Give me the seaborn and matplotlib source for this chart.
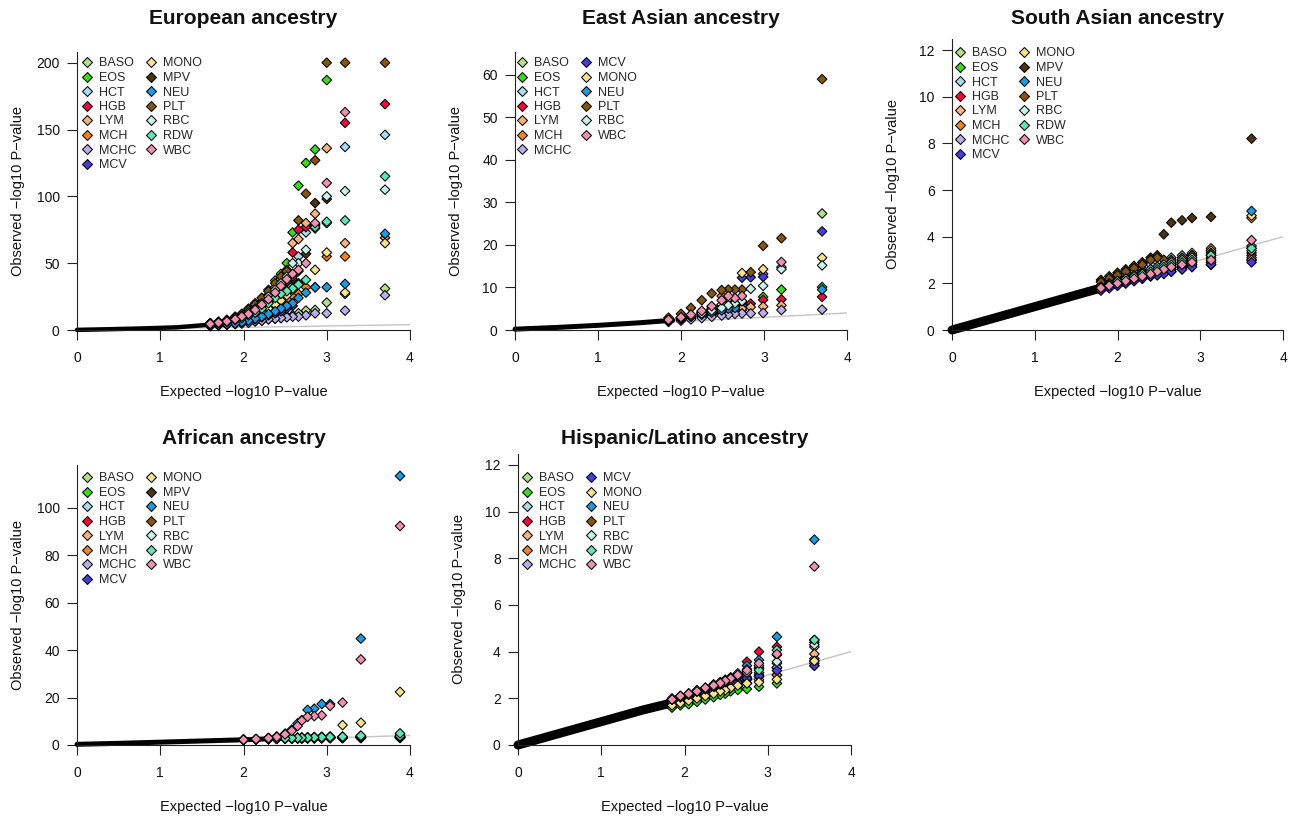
import matplotlib
matplotlib.use("Agg")
import matplotlib.pyplot as plt
import pandas as pd
import seaborn as sns
from matplotlib.lines import Line2D

sns.set_theme(style="ticks")
plt.rcParams['font.family'] = ['Liberation Sans', 'DejaVu Sans']

# ---------------- data ----------------
TRAITS = ["BASO", "EOS", "HCT", "HGB", "LYM", "MCH", "MCHC", "MCV",
          "MONO", "MPV", "NEU", "PLT", "RBC", "RDW", "WBC"]
COLORS = ["#b5e08a", "#3adb1a", "#a8dcf0", "#e8103a", "#f5b47c", "#f58518",
          "#bcaee8", "#4a3bd6", "#f7e48a", "#4b3510", "#1d9be0", "#86560e",
          "#c8f2ea", "#5ee6b4", "#f290b0"]

REF_X = [0, 4]
REF_Y = [0, 4]
X_TICKS = [0, 1, 2, 3, 4]

# European ancestry
EUR_TRAITS = TRAITS
EUR_X = [3.70, 3.22, 3.00, 2.86, 2.75, 2.66, 2.59, 2.52, 2.45, 2.38,
         2.30, 2.22, 2.14, 2.06, 1.98, 1.90, 1.80, 1.70, 1.60]
EUR_Y = [
    [31, 27, 20.5, 15, 14.5, 12.5, 11, 10, 9, 8.5, 8, 7, 6.5, 5.5, 5, 4.5, 4, 3.5, 3],          # BASO
    [None, None, 187, 135, 125, 108, 73, 50, 42, 37, 30, 24, 20, 16, 12, 10, 7.5, 6, 5],       # EOS
    [146, 137, 80, 76, 73, 55, 31, 34, 30, 26, 22, 18, 14, 11.5, 9.5, 8, 6.5, 5.5, 4.5],      # HCT
    [169, 155, None, 79, 77, 75, 58, 44, 36, 31, 26, 21, 17, 13, 11, 9, 7, 6, 5],              # HGB
    [None, 65, 136, 87, 80, 68, 65, 45, 38, 32, 26, 21, 17, 13.5, 11, 9, 7, 6, 5],             # LYM
    [69, 55, 55, 32, 32, 27, 25, 23, 21, 18, 15, 12, 10, 8.5, 7, 6, 5, 4.2, 3.5],              # MCH
    [26, 14.5, 12.5, 12.5, 11, 10, 10, 9.5, 9, 8.5, 8, 7, 6.5, 5.5, 5, 4.5, 4, 3.5, 3],        # MCHC
    [None, None, None, None, None, None, 18, 16, 14, 12.5, 11, 9.5, 8, 7, 6, 5, 4.3, 3.7, 3.2],  # MCV
    [65, 28, 58, 45, None, 35, 30, 26, 22, 19, 16, 13, 11, 9, 7.5, 6.5, 5.5, 4.5, 4],         # MONO
    [None, None, 98, 95, 57, 44, 38, 36, 33, 30, 26, 21, 17, 14, 11, 9, 7, 5.5, 4.5],          # MPV
    [72, 34.5, 32, 32, 28, 24, 20, 18, 16, 14, 12, 10, 8.5, 7, 6, 5, 4.3, 3.7, 3.2],           # NEU
    [200, 200, 200, 127, 102, 82, 40, 44, 40, 35, 29, 24, 19, 15, 12, 9.5, 7.5, 6, 5],         # PLT
    [105, 104, 100, 78, 60, 50, 50, 40, 35, 30, 25, 20, 16, 13, 10.5, 8.5, 7, 5.5, 4.5],       # RBC
    [115, 82, 81, 77, 37.5, 34, 31, 29, 27, 24, 20, 16, 13, 11, 9, 7.5, 6, 5, 4.5],            # RDW
    [None, 163, 110, 80, 50, 45, 42, 38, 33, 28, 23, 19, 15, 12, 10, 8, 6.5, 5.5, 4.5],        # WBC
]
EUR_BULK_X = [0, 0.4, 0.8, 1.2, 1.6]
EUR_BULK_Y = [0.1, 0.6, 1.2, 2.0, 4.0]
EUR_YTICKS = [0, 50, 100, 150, 200]

# East Asian ancestry
EAS_TRAITS = ["BASO", "EOS", "HCT", "HGB", "LYM", "MCH", "MCHC",
              "MCV", "MONO", "NEU", "PLT", "RBC", "WBC"]
EAS_X = [3.70, 3.21, 2.99, 2.84, 2.735, 2.65, 2.57, 2.49, 2.37, 2.25, 2.12, 2.00, 1.85]
EAS_Y = [
    [27.4, None, None, None, None, 6.0, 5.5, 5.0, 4.5, 3.9, 3.3, 2.8, 2.3],    # BASO
    [10.1, 9.5, 7.8, None, 5.8, 5.5, 5.0, 4.6, 4.1, 3.6, 3.1, 2.6, 2.2],       # EOS
    [None, 14.8, None, None, 6.5, 7.3, 6.2, 5.5, 4.8, 4.0, 3.3, 2.8, 2.3],     # HCT
    [7.8, 7.2, 7.1, 6.2, 4.7, 4.6, 4.3, 4.0, 3.6, 3.2, 2.8, 2.4, 2.1],         # HGB
    [None, 5.8, 5.5, 5.4, 5.0, 4.8, 4.5, 4.2, 3.8, 3.3, 2.9, 2.5, 2.1],        # LYM
    [None, None, 13.2, None, 6.8, 6.5, 7.5, 8.0, 5.5, 4.3, 3.5, 2.9, 2.4],     # MCH
    [4.8, 4.7, 4.0, 3.9, 3.9, 3.8, 3.6, 3.4, 3.1, 2.8, 2.5, 2.2, 1.9],         # MCHC
    [23.2, None, 12.5, 12.4, 12.3, 6.0, 6.2, 5.8, 5.0, 4.2, 3.5, 2.9, 2.4],    # MCV
    [17.0, None, 14.3, None, 13.4, 7.4, 7.4, 6.0, 4.9, 4.1, 3.4, 2.8, 2.3],    # MONO
    [9.5, None, None, None, None, 5.2, 5.0, 4.6, 4.1, 3.6, 3.1, 2.6, 2.2],     # NEU
    [59.0, 21.6, 19.8, 13.6, 9.5, 9.5, 9.5, 9.4, 8.6, 7.0, 5.2, 3.8, 2.9],     # PLT
    [15.2, 14.3, 10.4, 9.7, 6.8, 6.3, 5.8, 5.2, 4.6, 3.9, 3.3, 2.8, 2.3],      # RBC
    [None, 16.0, None, None, 8.0, 7.5, 8.0, 7.0, 5.6, 4.5, 3.6, 3.0, 2.4],     # WBC
]
EAS_BULK_X = [0, 0.5, 1.0, 1.5, 1.9]
EAS_BULK_Y = [0.2, 0.6, 1.1, 1.7, 2.3]
EAS_YTICKS = [0, 10, 20, 30, 40, 50, 60]

# South Asian ancestry
SAS_TRAITS = TRAITS
SAS_X = [3.62, 3.13, 2.90, 2.78, 2.65, 2.56, 2.48, 2.40, 2.30, 2.20, 2.10, 2.00, 1.90, 1.80]
SAS_Y = [
    [3.3, 3.1, 2.9, 2.8, 2.7, 2.6, 2.5, 2.4, 2.3, 2.2, 2.1, 2.0, 1.9, 1.8],          # BASO
    [3.0, 2.9, 2.8, 2.7, 2.6, 2.5, 2.45, 2.35, 2.25, 2.15, 2.05, 1.95, 1.85, 1.75],  # EOS
    [3.6, 3.4, 3.3, 3.2, 3.1, 3.0, 2.9, 2.8, 2.6, 2.5, 2.35, 2.2, 2.05, 1.9],        # HCT
    [3.2, 3.0, 2.9, 2.8, 2.7, 2.6, 2.5, 2.4, 2.3, 2.2, 2.1, 2.0, 1.9, 1.8],          # HGB
    [4.8, 3.5, 3.2, 3.0, 2.9, 2.8, 2.7, 2.6, 2.5, 2.35, 2.25, 2.1, 2.0, 1.85],       # LYM
    [3.1, 2.9, 2.8, 2.7, 2.6, 2.5, 2.4, 2.35, 2.25, 2.15, 2.05, 1.95, 1.85, 1.75],   # MCH
    [3.0, 2.8, 2.7, 2.6, 2.5, 2.45, 2.35, 2.3, 2.2, 2.1, 2.0, 1.9, 1.8, 1.7],        # MCHC
    [2.9, 2.8, 2.7, 2.6, 2.5, 2.4, 2.35, 2.3, 2.2, 2.1, 2.0, 1.9, 1.8, 1.7],         # MCV
    [4.9, 3.4, 3.1, 3.0, 2.85, 2.75, 2.65, 2.55, 2.45, 2.3, 2.2, 2.1, 1.95, 1.85],   # MONO
    [8.2, 4.85, 4.8, 4.7, 4.6, 4.1, 3.2, 3.1, 2.9, 2.75, 2.6, 2.45, 2.3, 2.15],      # MPV
    [5.1, 3.3, 3.0, 2.9, 2.8, 2.7, 2.6, 2.5, 2.4, 2.3, 2.2, 2.05, 1.95, 1.85],       # NEU
    [3.5, 3.3, 3.2, 3.1, 3.0, 3.0, 3.1, 3.0, 2.8, 2.65, 2.5, 2.35, 2.2, 2.05],       # PLT
    [3.4, 3.2, 3.1, 3.0, 2.9, 2.8, 2.7, 2.6, 2.45, 2.35, 2.2, 2.1, 2.0, 1.85],       # RBC
    [3.5, 3.2, 3.0, 2.9, 2.8, 2.7, 2.6, 2.5, 2.4, 2.3, 2.2, 2.1, 1.95, 1.85],        # RDW
    [3.85, 3.0, 2.9, 2.8, 2.7, 2.6, 2.5, 2.4, 2.3, 2.2, 2.1, 2.0, 1.9, 1.8],         # WBC
]
SAS_BULK_X = [0, 0.5, 1.0, 1.5, 2.0, 2.2]
SAS_BULK_Y = [0.0, 0.5, 1.0, 1.5, 2.0, 2.2]
SAS_YTICKS = [0, 2, 4, 6, 8, 10, 12]

# African ancestry
AFR_TRAITS = TRAITS
AFR_X = [3.88, 3.41, 3.19, 3.04, 2.94, 2.85, 2.77, 2.70, 2.65, 2.58, 2.50, 2.40, 2.30, 2.15, 2.00]
AFR_Y = [
    [3.0, 3.2, 3.0, 3.1, 3.0, 3.0, 2.95, 2.9, 2.9, 2.85, 2.8, 2.7, 2.6, 2.4, 2.2],        # BASO
    [3.4, 3.3, 3.2, 3.1, 3.05, 3.0, 3.0, 2.95, 2.9, 2.85, 2.8, 2.7, 2.6, 2.4, 2.2],       # EOS
    [4.3, 3.9, 3.5, 3.3, 3.2, 3.1, 3.05, 3.0, 2.95, 2.9, 2.8, 2.7, 2.6, 2.4, 2.2],        # HCT
    [3.5, 3.6, 3.4, 3.2, 3.1, 3.05, 3.0, 2.95, 2.9, 2.85, 2.8, 2.7, 2.6, 2.4, 2.2],       # HGB
    [3.2, 3.1, 3.0, 3.0, 2.95, 2.9, 2.9, 2.85, 2.85, 2.8, 2.75, 2.65, 2.55, 2.4, 2.2],    # LYM
    [3.1, 3.0, 3.0, 2.95, 2.9, 2.9, 2.85, 2.85, 2.8, 2.75, 2.7, 2.6, 2.5, 2.35, 2.15],    # MCH
    [3.0, 2.9, 2.9, 2.9, 2.85, 2.85, 2.8, 2.8, 2.75, 2.7, 2.65, 2.6, 2.5, 2.35, 2.15],    # MCHC
    [3.3, 3.2, 3.1, 3.0, 3.0, 2.95, 2.9, 2.9, 2.85, 2.8, 2.75, 2.65, 2.55, 2.4, 2.2],     # MCV
    [22.4, 9.4, 8.4, 3.6, 3.5, 3.4, 3.3, 3.2, 3.1, 3.0, 2.9, 2.8, 2.65, 2.45, 2.25],      # MONO
    [3.6, 3.5, 3.3, 3.2, 3.1, 3.05, 3.0, 2.95, 2.9, 2.85, 2.8, 2.7, 2.6, 2.4, 2.2],       # MPV
    [113.5, 44.9, None, 17.3, 17.3, 15.3, 14.8, 10.5, 9.1, 6.5, 4.8, 3.6, 3.0, 2.5, 2.2], # NEU
    [3.4, 3.3, 3.2, 3.1, 3.05, 3.0, 2.95, 2.9, 2.9, 2.85, 2.8, 2.7, 2.6, 2.4, 2.2],       # PLT
    [3.8, 3.7, 3.4, 3.3, 3.2, 3.1, 3.05, 3.0, 2.95, 2.9, 2.8, 2.7, 2.6, 2.4, 2.2],        # RBC
    [4.9, 3.9, 3.5, 3.4, 3.3, 3.2, 3.1, 3.05, 3.0, 2.9, 2.8, 2.7, 2.6, 2.45, 2.25],       # RDW
    [92.4, 36.1, 17.9, 16.5, 12.5, 12.2, 11.9, 10.3, 8.0, 6.0, 4.5, 3.4, 2.9, 2.5, 2.2],  # WBC
]
AFR_BULK_X = [0, 0.5, 1.0, 1.5, 2.0, 2.3]
AFR_BULK_Y = [0.3, 0.7, 1.2, 1.7, 2.2, 2.6]
AFR_YTICKS = [0, 20, 40, 60, 80, 100]

# Hispanic/Latino ancestry
HIS_TRAITS = ["BASO", "EOS", "HCT", "HGB", "LYM", "MCH", "MCHC",
              "MCV", "MONO", "NEU", "PLT", "RBC", "RDW", "WBC"]
HIS_X = [3.56, 3.11, 2.895, 2.75, 2.64, 2.555, 2.49, 2.43, 2.35, 2.25, 2.15, 2.05, 1.95, 1.85]
HIS_Y = [
    [3.7, 3.0, 2.8, 2.65, 2.5, 2.4, 2.3, 2.25, 2.15, 2.05, 1.95, 1.85, 1.75, 1.65],    # BASO
    [3.4, 2.64, 2.5, 2.4, 2.36, 2.3, 2.2, 2.15, 2.05, 1.95, 1.85, 1.75, 1.7, 1.6],     # EOS
    [4.2, 3.5, 3.3, 3.1, 2.95, 2.85, 2.75, 2.65, 2.55, 2.4, 2.3, 2.15, 2.05, 1.95],    # HCT
    [4.4, 4.21, 4.0, 3.57, 2.93, 2.9, 2.75, 2.65, 2.55, 2.4, 2.3, 2.15, 2.05, 1.95],   # HGB
    [3.9, 3.3, 3.1, 2.9, 2.8, 2.7, 2.6, 2.5, 2.4, 2.3, 2.2, 2.1, 2.0, 1.9],            # LYM
    [3.6, 3.0, 2.93, 2.8, 2.7, 2.6, 2.5, 2.4, 2.3, 2.2, 2.1, 2.0, 1.9, 1.8],           # MCH
    [3.5, 3.33, 3.0, 2.85, 2.7, 2.6, 2.5, 2.4, 2.3, 2.2, 2.1, 2.0, 1.9, 1.8],          # MCHC
    [3.4, 3.19, 2.95, 2.86, 2.7, 2.6, 2.5, 2.4, 2.3, 2.2, 2.1, 2.0, 1.9, 1.8],         # MCV
    [3.6, 2.81, 2.69, 2.64, 2.55, 2.45, 2.35, 2.3, 2.2, 2.1, 2.0, 1.9, 1.8, 1.7],      # MONO
    [8.8, 4.64, 3.64, 3.4, 3.0, 2.85, 2.75, 2.65, 2.55, 2.45, 2.3, 2.2, 2.1, 1.95],    # NEU
    [4.5, 3.86, 3.3, 3.1, 2.95, 2.8, 2.7, 2.6, 2.5, 2.4, 2.3, 2.2, 2.05, 1.95],        # PLT
    [4.3, 3.57, 3.4, 3.1, 2.95, 2.8, 2.7, 2.6, 2.5, 2.4, 2.3, 2.15, 2.05, 1.95],       # RBC
    [4.5, 4.07, 3.21, 3.24, 3.07, 2.79, 2.8, 2.7, 2.6, 2.45, 2.35, 2.2, 2.1, 2.0],     # RDW
    [7.65, 3.9, 3.5, 3.2, 3.0, 2.85, 2.75, 2.65, 2.55, 2.45, 2.3, 2.2, 2.1, 1.95],     # WBC
]
HIS_BULK_X = [0, 0.5, 1.0, 1.5, 1.9, 2.1]
HIS_BULK_Y = [0.0, 0.5, 1.0, 1.5, 1.85, 2.0]
HIS_YTICKS = [0, 2, 4, 6, 8, 10, 12]

TITLES = ["European ancestry", "East Asian ancestry", "South Asian ancestry",
          "African ancestry", "Hispanic/Latino ancestry"]
XLABEL = "Expected \u2212log10 P\u2212value"
YLABEL = "Observed \u2212log10 P\u2212value"

# ---------------- layout (pixels) ----------------
W, H = 1292, 819
fig = plt.figure(figsize=(W / 100, H / 100), dpi=100)
PAL = dict(zip(TRAITS, COLORS))

panels = [
    # data, axes left/right/bottom/top px, ylim top, legend (left px, first row center px), title y px, band lw
    (EUR_TRAITS, EUR_X, EUR_Y, EUR_BULK_X, EUR_BULK_Y, EUR_YTICKS, 208, (77, 410, 330, 52), (82, 65), 18, 3.2),
    (EAS_TRAITS, EAS_X, EAS_Y, EAS_BULK_X, EAS_BULK_Y, EAS_YTICKS, 65.4, (515, 847, 330, 52), (517, 65), 18, 3.6),
    (SAS_TRAITS, SAS_X, SAS_Y, SAS_BULK_X, SAS_BULK_Y, SAS_YTICKS, 12.48, (952, 1283, 330, 38.8), (955, 55), 18, 6.5),
    (AFR_TRAITS, AFR_X, AFR_Y, AFR_BULK_X, AFR_BULK_Y, AFR_YTICKS, 118, (77, 410, 745, 465.3), (82, 480), 438, 3.6),
    (HIS_TRAITS, HIS_X, HIS_Y, HIS_BULK_X, HIS_BULK_Y, HIS_YTICKS, 12.48, (518, 851, 745, 453.8), (522, 480), 438, 6.5),
]

MS = 24
for title, (traits, xs, ys, bx, by, yticks, ytop, (l, r, b, t), (lgx, lgy), ty, blw) in zip(TITLES, panels):
    ax = fig.add_axes([l / W, 1 - b / H, (r - l) / W, (b - t) / H])
    rows = []
    for tr, yv in zip(traits, ys):
        for x, y in zip(xs, yv):
            if y is not None:
                rows.append((tr, x, y))
    df = pd.DataFrame(rows, columns=["trait", "expected", "observed"])

    sns.lineplot(x=REF_X, y=REF_Y, color="#c4c4c4", lw=1.0, ax=ax, zorder=1)
    sns.lineplot(x=bx, y=by, color="black", lw=blw, ax=ax, zorder=2,
                 solid_capstyle="round", clip_on=False)
    sns.scatterplot(data=df, x="expected", y="observed", hue="trait",
                    hue_order=traits, palette=PAL, marker="D", s=MS,
                    edgecolor="black", linewidth=0.75, legend=False, ax=ax,
                    zorder=3, clip_on=False)

    ax.set_xlim(0, 4)
    ax.set_ylim(0, ytop)
    ax.set_xticks(X_TICKS)
    ax.set_yticks(yticks)
    ax.set_xticklabels([str(v) for v in X_TICKS])
    ax.set_yticklabels([str(v) for v in yticks])
    for s in ["top", "right"]:
        ax.spines[s].set_visible(False)
    for s in ["left", "bottom"]:
        ax.spines[s].set_color("#222222")
        ax.spines[s].set_linewidth(0.8)
    ax.tick_params(axis="both", direction="out", length=7, width=0.8,
                   colors="#222222", labelsize=10, labelcolor="#111111")
    ax.tick_params(axis="x", pad=8)
    ax.tick_params(axis="y", pad=5.5)

    wpx, hpx = (r - l), (b - t)
    ax.set_xlabel(XLABEL, fontsize=10.5, color="#111111", va="center")
    ax.xaxis.set_label_coords(0.5, -62 / hpx)
    ax.set_ylabel(YLABEL, fontsize=10.5, color="#111111", va="center")
    ax.yaxis.set_label_coords(-59 / wpx, 0.5)

    handles = [Line2D([], [], ls="", marker="D", markersize=MS ** 0.5,
                      markerfacecolor=PAL[tr], markeredgecolor="black",
                      markeredgewidth=0.75) for tr in traits]
    ax.legend(handles, traits, ncol=2, loc="upper left",
              bbox_to_anchor=(lgx / W, 1 - (lgy - 7.5) / H),
              bbox_transform=fig.transFigure, frameon=False, fontsize=9,
              handlelength=0.8, handletextpad=0.55, columnspacing=0.8,
              labelspacing=0.2, borderpad=0, borderaxespad=0)

    fig.text(((l + r) / 2) / W, 1 - ty / H, title, ha="center", va="center",
             fontsize=15, fontweight="bold", color="#111111")

fig.savefig("out.png", dpi=100)
